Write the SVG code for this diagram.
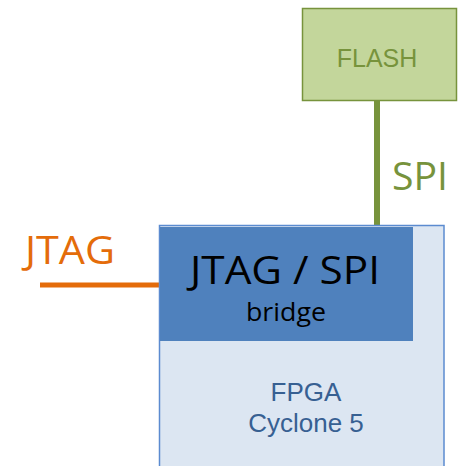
<svg xmlns="http://www.w3.org/2000/svg" width="462" height="466" viewBox="0 0 462 466">
<style>
.cal{font-family:"Open Sans",Lato,"DejaVu Sans",sans-serif;font-weight:400}
.ari{font-family:"Liberation Sans",Arial,sans-serif}
</style>
<rect width="462" height="466" fill="#ffffff"/>
<g id="connectors">
<line x1="377" y1="101" x2="377" y2="227" stroke="#77933c" stroke-width="6"/>
<line x1="40" y1="285" x2="159" y2="285" stroke="#e46c0a" stroke-width="5"/>
</g>
<g id="flash">
<rect x="302.5" y="8.5" width="154" height="92" fill="#c3d69b" stroke="#77933c" stroke-width="1.5"/>
<text x="377" y="67" class="ari" font-size="25" fill="#77933c" text-anchor="middle">FLASH</text>
</g>
<g id="spi-label">
<text x="392" y="190" class="cal" font-size="38" fill="#77933c" textLength="56" lengthAdjust="spacingAndGlyphs">SPI</text>
</g>
<g id="jtag-label">
<text x="25" y="264" class="cal" font-size="38" fill="#e46c0a" textLength="90" lengthAdjust="spacingAndGlyphs">JTAG</text>
</g>
<g id="fpga">
<rect x="159.5" y="225.5" width="284.5" height="250" fill="#dce6f2" stroke="#5b8bd0" stroke-width="1.5"/>
<text x="306" y="401" class="ari" font-size="26" fill="#376092" text-anchor="middle">FPGA</text>
<text x="306" y="432" class="ari" font-size="26" fill="#376092" text-anchor="middle">Cyclone 5</text>
</g>
<g id="bridge">
<rect x="160" y="227" width="253" height="114" fill="#4f81bd"/>
<text x="190" y="284" class="cal" font-size="38" fill="#000000" textLength="190" lengthAdjust="spacingAndGlyphs">JTAG / SPI</text>
<text x="246" y="321" class="cal" font-size="25" fill="#000000" textLength="80" lengthAdjust="spacingAndGlyphs">bridge</text>
</g>
</svg>
